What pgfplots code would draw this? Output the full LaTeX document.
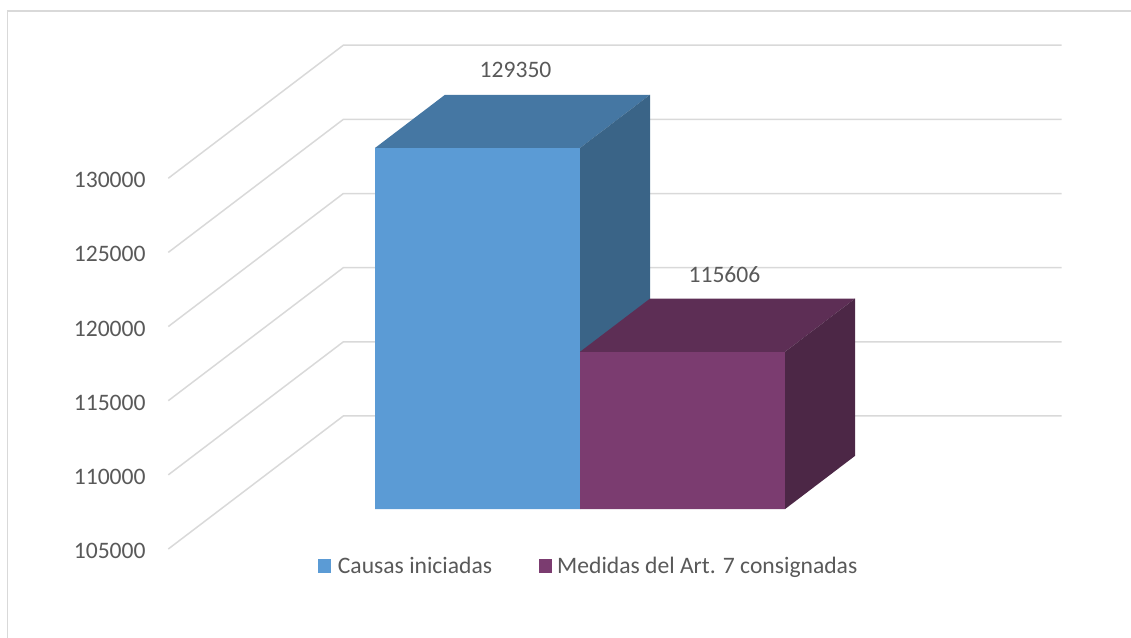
\documentclass[border=0pt]{standalone}
\usepackage{pgfplots}
\pgfplotsset{compat=1.18}
\usepackage{fontspec}
\setmainfont{Carlito}
\usetikzlibrary{calc}
\definecolor{txt}{HTML}{595959}
\definecolor{gridc}{HTML}{D9D9D9}
\definecolor{bluefront}{HTML}{5B9BD5}
\definecolor{bluetop}{HTML}{4577A3}
\definecolor{blueside}{HTML}{3A6487}
\definecolor{purpfront}{HTML}{7B3C70}
\definecolor{purptop}{HTML}{5D2E55}
\definecolor{purpside}{HTML}{4C2746}
\begin{document}
\begin{tikzpicture}[font=\fontsize{23.6}{28}\selectfont]
\begin{axis}[
  hide axis, clip=false,
  x={(359.2pt,0pt)}, y={(175pt,133pt)}, z={(0pt,0.014830pt)},
  xmin=0,xmax=2,ymin=0,ymax=1,zmin=105000,zmax=130000,
]
\coordinate (O) at (axis cs:0,0,105000);
\pgfplotsinvokeforeach{105000,110000,115000,120000,125000,130000}{
  \draw[gridc,line width=1.5pt] (axis cs:0,0,#1) -- (axis cs:0,1,#1) -- (axis cs:2,1,#1);
  \node[anchor=east,text=txt,inner sep=0pt] at ([xshift=-22.5pt,yshift=-2pt]axis cs:0,0,#1) {#1};
}
% Series 1: Causas iniciadas = 129350
\addplot3[fill=bluefront,draw=none,mark=none] coordinates {(0.4293,0.3,105000) (1,0.3,105000) (1,0.3,129350) (0.4293,0.3,129350) (0.4293,0.3,105000)};
\addplot3[fill=bluetop,draw=none,mark=none] coordinates {(0.4293,0.3,129350) (1,0.3,129350) (1,0.7,129350) (0.4293,0.7,129350) (0.4293,0.3,129350)};
\addplot3[fill=blueside,draw=none,mark=none] coordinates {(1,0.3,105000) (1,0.7,105000) (1,0.7,129350) (1,0.3,129350) (1,0.3,105000)};
% Series 2: Medidas del Art. 7 consignadas = 115606
\addplot3[fill=purpfront,draw=none,mark=none] coordinates {(1,0.3,105000) (1.5707,0.3,105000) (1.5707,0.3,115606) (1,0.3,115606) (1,0.3,105000)};
\addplot3[fill=purptop,draw=none,mark=none] coordinates {(1,0.3,115606) (1.5707,0.3,115606) (1.5707,0.7,115606) (1,0.7,115606) (1,0.3,115606)};
\addplot3[fill=purpside,draw=none,mark=none] coordinates {(1.5707,0.3,105000) (1.5707,0.7,105000) (1.5707,0.7,115606) (1.5707,0.3,115606) (1.5707,0.3,105000)};
\node[text=txt,inner sep=0pt] at ([xshift=3pt,yshift=51.5pt]axis cs:0.7147,0.5,129350) {129350};
\node[text=txt,inner sep=0pt] at ([xshift=7pt,yshift=51pt]axis cs:1.2853,0.5,115606) {115606};
\end{axis}
\pgfresetboundingbox
\path[use as bounding box] ($(O)+(-168.3pt,-88pt)$) rectangle ($(O)+(962.7pt,549pt)$);
\draw[gridc,line width=1.5pt] ($(O)+(-160.8pt,-100pt)$) -- ($(O)+(-160.8pt,538pt)$) -- ($(O)+(975pt,538pt)$);
\fill[bluefront] ($(O)+(150pt,-23.7pt)$) rectangle ++(13pt,13.7pt);
\node[anchor=base west,inner sep=0pt,text=txt] at ($(O)+(169.4pt,-24pt)$) {Causas iniciadas};
\fill[purpfront] ($(O)+(371pt,-23.7pt)$) rectangle ++(13pt,13.7pt);
\node[anchor=base west,inner sep=0pt,text=txt] at ($(O)+(388.7pt,-24pt)$) {Medidas del Art. 7 consignadas};
\end{tikzpicture}
\end{document}
